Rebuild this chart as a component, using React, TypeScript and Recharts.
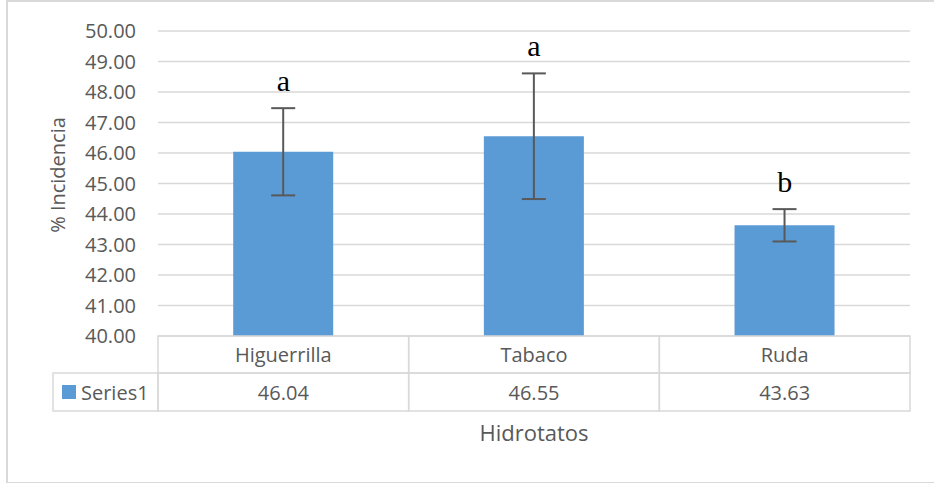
import {
  Bar,
  BarChart,
  CartesianGrid,
  ErrorBar,
  Label,
  ReferenceDot,
  XAxis,
  YAxis,
} from "recharts";

// values
const categories = ["Higuerrilla", "Tabaco", "Ruda"];
const values = [46.04, 46.55, 43.63];
const errors = [1.43, 2.06, 0.53];
const letters = ["a", "a", "b"];
const yTicks = [40, 41, 42, 43, 44, 45, 46, 47, 48, 49, 50];
const seriesName = "Series1";

const data = categories.map((name, i) => ({ name, value: values[i], err: errors[i] }));

const BLUE = "#5b9bd5";
const GRID = "#d9d9d9";
const TEXT = "#595959";
const FONT = "'Open Sans', sans-serif";

// data-table geometry under the plot
const CELL_W = 752 / 3;
const ROW1 = 37;
const ROW2 = 38;
const LEGEND_W = 105;

function TableTick(props: any) {
  const { x, y, payload, index } = props;
  const left = x - CELL_W / 2;
  return (
    <g>
      <rect x={left} y={y} width={CELL_W} height={ROW1} fill="none" stroke={GRID} strokeWidth={1.5} />
      <rect x={left} y={y + ROW1} width={CELL_W} height={ROW2} fill="none" stroke={GRID} strokeWidth={1.5} />
      <text x={x} y={y + ROW1 / 2} textAnchor="middle" dominantBaseline="central" fontSize={20} fill={TEXT} fontFamily={FONT}>
        {payload.value}
      </text>
      <text x={x} y={y + ROW1 + ROW2 / 2} textAnchor="middle" dominantBaseline="central" fontSize={20} fill={TEXT} fontFamily={FONT}>
        {values[index].toFixed(2)}
      </text>
      {index === 0 && (
        <g>
          <rect x={left - LEGEND_W} y={y + ROW1} width={LEGEND_W} height={ROW2} fill="none" stroke={GRID} strokeWidth={1.5} />
          <rect x={left - LEGEND_W + 9} y={y + ROW1 + 12} width={14} height={14} fill={BLUE} />
          <text x={left - LEGEND_W + 28} y={y + ROW1 + ROW2 / 2} dominantBaseline="central" fontSize={20} fill={TEXT} fontFamily={FONT}>
            {seriesName}
          </text>
        </g>
      )}
    </g>
  );
}

export default function App() {
  return (
    <div style={{ position: "absolute", left: 0, top: 0, width: 934, height: 483, background: "#fff", overflow: "hidden" }}>
      <div
        style={{
          position: "absolute",
          left: 6,
          top: 0,
          width: 940,
          height: 480,
          border: `2px solid ${GRID}`,
          borderRightWidth: 0,
        }}
      />
      <BarChart
        width={934}
        height={483}
        data={data}
        margin={{ top: 31, right: 24, left: 58, bottom: 72 }}
        barCategoryGap="30%"
        style={{ position: "absolute", left: 0, top: 0 }}
      >
        <CartesianGrid vertical={false} stroke={GRID} strokeWidth={1.5} />
        <XAxis
          dataKey="name"
          height={ROW1 + ROW2}
          axisLine={false}
          tickLine={false}
          tickSize={0}
          tickMargin={0}
          interval={0}
          tick={<TableTick />}
        >
          <Label
            content={() => (
              <text x={534} y={441} textAnchor="middle" fontSize={22} fill={TEXT} fontFamily={FONT}>
                Hidrotatos
              </text>
            )}
          />
        </XAxis>
        <YAxis
          width={100}
          domain={[40, 50]}
          ticks={yTicks}
          allowDataOverflow
          axisLine={false}
          tickLine={false}
          tickSize={6}
          tickMargin={16}
          tickFormatter={(v: number) => v.toFixed(2)}
          tick={{ fontSize: 20, fill: TEXT, fontFamily: FONT }}
        >
          <Label
            content={() => (
              <text x={65} y={175} transform="rotate(-90 65 175)" textAnchor="middle" fontSize={20} fill={TEXT} fontFamily={FONT}>
                % Incidencia
              </text>
            )}
          />
        </YAxis>
        <Bar dataKey="value" fill={BLUE} isAnimationActive={false}>
          <ErrorBar dataKey="err" width={12} stroke={TEXT} strokeWidth={2} direction="y" isAnimationActive={false} />
        </Bar>
        {data.map((d, i) => (
          <ReferenceDot
            key={d.name}
            x={d.name}
            y={d.value + d.err}
            r={0}
            fill="none"
            stroke="none"
            ifOverflow="visible"
            label={{
              value: letters[i],
              position: "top",
              offset: 17,
              fill: "#000",
              fontSize: 30,
              fontFamily: "'Liberation Serif', 'Times New Roman', serif",
            }}
          />
        ))}
      </BarChart>
    </div>
  );
}
